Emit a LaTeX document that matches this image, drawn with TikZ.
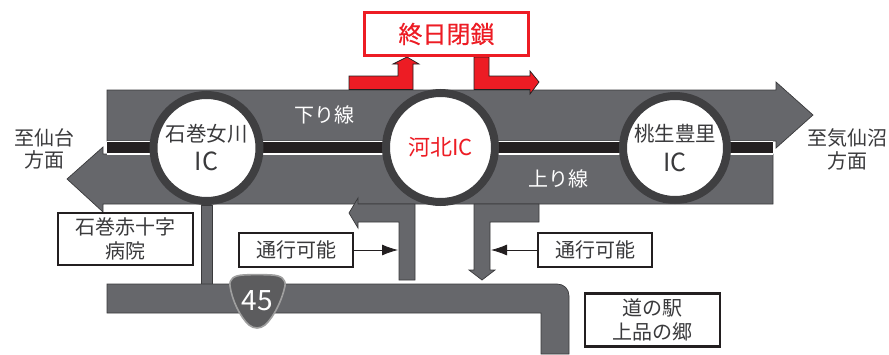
\documentclass[tikz,border=0pt]{standalone}
\usepackage{fontspec}
\setmainfont{Noto Sans CJK JP}
\usetikzlibrary{arrows.meta}
\definecolor{road}{HTML}{66676B}
\definecolor{edge}{HTML}{3A3A3C}
\definecolor{ring}{HTML}{3F3F41}
\definecolor{band}{HTML}{231F20}
\definecolor{redx}{HTML}{ED1C24}
\definecolor{txt}{HTML}{3A3A3C}
\newcommand{\bigic}{\fontsize{25}{28}\selectfont IC}
\tikzset{
  roadshape/.style={fill=road,draw=edge,line width=0.7pt,line join=miter},
  redshape/.style={fill=redx,draw=band,line width=0.7pt,line join=miter},
  icring/.style={circle,draw=ring,fill=white,line width=8pt,inner sep=0pt,align=center,text=txt,font=\fontsize{20.5}{28}\selectfont},
  infobox/.style={draw=band,fill=white,line width=2.6pt,inner sep=0pt,align=center,text=txt,font=\fontsize{20}{23.5}\selectfont},
  roadlabel/.style={text=white,inner sep=0pt,font=\fontsize{20}{24}\selectfont},
  dirlabel/.style={text=txt,inner sep=0pt,align=center,font=\fontsize{20}{22.5}\selectfont},
  pointer/.style={draw=band,line width=0.8pt,-{Latex[length=16pt,width=11pt]}}
}
\begin{document}
\begin{tikzpicture}[x=1pt,y=-1pt]
\useasboundingbox (0,0) rectangle (889,354);
% upper carriageway
\draw[roadshape] (107,90) -- (776,90) -- (776,82) -- (813,115) -- (776,148) -- (776,141) -- (107,141) -- cycle;
% lower carriageway
\draw[roadshape] (773,154) -- (773,204) -- (103,204) -- (103,212) -- (67,179) -- (103,147) -- (103,154) -- cycle;
% median
\fill[white] (107,140.5) rectangle (773,155);
\fill[band] (107,142) rectangle (773,153);
% national road
\draw[roadshape] (201,205) -- (212,205) -- (212,284) -- (201,284) -- cycle;
\draw[roadshape] (107,284) -- (557,284) .. controls (564,284) and (569,289) .. (569,296) -- (569,354) -- (541,354) -- (541,313) -- (107,313) -- cycle;
% passable ramps
\draw[roadshape] (415,280) -- (399,280) -- (399,222) -- (358,222) -- (358,228) -- (349,213) -- (358,198) -- (358,204) -- (415,204) -- cycle;
\draw[roadshape] (539,204) -- (539,222) -- (490,222) -- (490,270) -- (495,270) -- (482,280) -- (469,270) -- (474,270) -- (474,204) -- cycle;
% red closed ramps
\draw[redshape] (349,89.5) -- (349,76) -- (398,76) -- (398,64) -- (393,64) -- (407,57) -- (419,64) -- (413,64) -- (413,89.5) -- cycle;
\draw[redshape] (474,57) -- (489,57) -- (489,76) -- (530,76) -- (530,71) -- (539,82) -- (530,94) -- (530,89.5) -- (474,89.5) -- cycle;
% closure box
\node[draw=redx,fill=white,line width=3.2pt,minimum width=164pt,minimum height=43pt,inner sep=0pt,text=redx,font=\fontsize{24}{28}\selectfont\addfontfeatures{FakeBold=0.6}] (closed) at (446.5,34) {終日閉鎖};
% interchanges
\node[icring,minimum size=106pt] (ishi) at (206.5,148) {石巻女川\\[1pt]\bigic};
\node[icring,minimum size=109pt,text=redx,font=\fontsize{22}{28}\selectfont] (kahoku) at (440.5,147.5) {河北IC};
\node[icring,minimum size=104pt] (momo) at (675,148) {桃生豊里\\[2pt]\bigic};
% road labels
\node[roadlabel] (down) at (324,115) {下り線};
\node[roadlabel] (up) at (558,179) {上り線};
\node[dirlabel] (west) at (44,149) {至仙台\\方面};
\node[dirlabel] (east) at (847,149.5) {至気仙沼\\方面};
% info boxes
\node[infobox,minimum width=135pt,minimum height=52pt] (hospital) at (125.5,239) {石巻赤十字\\病院};
\node[infobox,minimum width=114pt,minimum height=34pt] (passa) at (296,250) {通行可能};
\node[infobox,minimum width=114pt,minimum height=34pt] (passb) at (595,250) {通行可能};
\node[infobox,minimum width=135pt,minimum height=53pt] (michi) at (652.5,320) {道の駅\\上品の郷};
\coordinate (passaend) at (398,250);
\coordinate (passbend) at (491,250);
\draw[pointer] (passa) -- (passaend);
\draw[pointer] (passb) -- (passbend);
% route shield
\draw[fill=ring!85!white,draw=gray!75,line width=1.6pt] (243,275) .. controls (250,274.5) and (264,274.5) .. (272,275) .. controls (281,275.5) and (286,279) .. (285,286) .. controls (282,300) and (274,317) .. (265,325) .. controls (260,329) and (254,329) .. (249,325) .. controls (240,317) and (232,300) .. (230,286) .. controls (229,279) and (234,275.5) .. (243,275) -- cycle;
\node[text=white,inner sep=0pt,font=\fontsize{28}{30}\selectfont] (route) at (257,301) {45};
\end{tikzpicture}
\end{document}
